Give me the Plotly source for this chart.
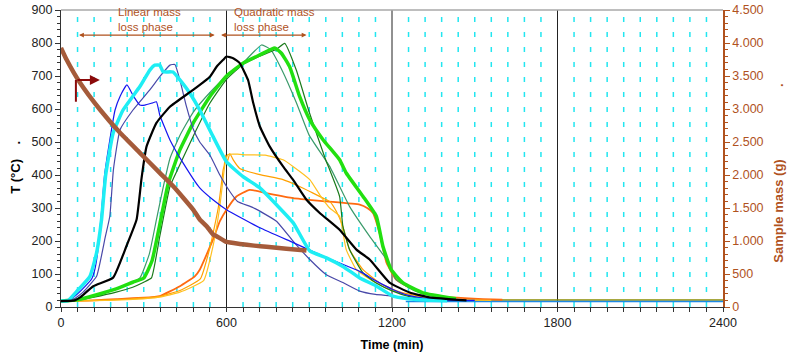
import plotly.graph_objects as go

# ---------------- data ----------------
blue_t = [0, 30, 60, 90, 111, 123, 135, 147, 158, 177, 196, 214, 239, 262, 286, 304, 330, 346, 358, 395, 443, 503, 551, 600, 721, 842, 962, 1083, 1140, 1203, 1260, 1320, 1400, 1500]
blue_T = [18, 20, 40, 65, 85, 115, 180, 290, 400, 506, 597, 638, 673, 640, 612, 612, 618, 622, 582, 506, 436, 361, 325, 295, 240, 195, 150, 108, 80, 53, 35, 26, 21, 20]

cyan_t = [0, 25, 60, 105, 129, 147, 162, 189, 225, 286, 322, 340, 358, 370, 406, 431, 467, 503, 551, 600, 660, 721, 781, 842, 902, 962, 1022, 1083, 1140, 1203, 1260, 1320, 1400]
cyan_T = [18, 19, 50, 93, 164, 265, 400, 527, 597, 668, 718, 733, 733, 713, 712, 688, 648, 597, 517, 440, 395, 361, 310, 255, 170, 149, 123, 88, 65, 33, 25, 21, 19]

slate_t = [0, 40, 80, 129, 160, 177, 190, 214, 261, 322, 358, 395, 413, 431, 455, 479, 503, 540, 576, 612, 640, 697, 781, 842, 902, 962, 1022, 1083, 1140, 1203, 1260, 1320]
slate_T = [18, 20, 45, 93, 210, 275, 416, 537, 597, 658, 698, 733, 735, 688, 607, 540, 500, 460, 400, 350, 320, 301, 260, 199, 144, 98, 74, 48, 38, 33, 25, 21]

black_t = [0, 50, 69, 117, 189, 237, 274, 292, 310, 346, 395, 479, 540, 564, 588, 600, 624, 648, 678, 697, 721, 757, 805, 841, 890, 938, 1010, 1071, 1119, 1191, 1264, 1336, 1470]
black_T = [18, 20, 29, 63, 89, 184, 265, 390, 486, 558, 607, 658, 698, 728, 749, 759, 754, 739, 688, 618, 547, 486, 426, 386, 325, 285, 234, 174, 144, 74, 44, 29, 20]

lime_t = [0, 60, 120, 200, 260, 300, 330, 358, 389, 431, 479, 540, 600, 660, 721, 775, 799, 829, 865, 902, 950, 1010, 1034, 1095, 1143, 1167, 1197, 1240, 1312, 1432]
lime_T = [18, 22, 35, 55, 75, 88, 140, 250, 375, 476, 557, 638, 700, 739, 764, 785, 769, 728, 638, 567, 507, 446, 406, 335, 275, 184, 113, 73, 43, 25]

seagreen_t = [0, 60, 120, 200, 250, 286, 320, 346, 371, 395, 431, 479, 540, 600, 660, 727, 760, 800, 853, 900, 974, 1046, 1119, 1180, 1215, 1285, 1400]
seagreen_T = [18, 22, 35, 55, 72, 88, 160, 265, 365, 450, 520, 590, 650, 700, 740, 794, 780, 720, 620, 520, 426, 305, 214, 144, 83, 48, 22]

dkgreen_t = [0, 60, 120, 200, 260, 300, 328, 358, 395, 419, 479, 540, 600, 660, 720, 780, 811, 853, 900, 962, 974, 1010, 1022, 1046, 1095, 1143, 1203, 1260, 1330, 1450]
dkgreen_T = [18, 21, 30, 45, 60, 75, 88, 214, 365, 410, 517, 618, 690, 735, 760, 780, 799, 718, 590, 440, 416, 335, 244, 174, 103, 73, 48, 32, 24, 20]

redorange_t = [0, 120, 200, 300, 358, 431, 485, 503, 551, 576, 600, 636, 684, 745, 841, 962, 1083, 1110, 1131, 1155, 1180, 1215, 1276, 1360, 1530, 1600]
redorange_T = [18, 20, 24, 28, 33, 63, 93, 113, 204, 260, 295, 335, 355, 345, 330, 320, 310, 300, 285, 224, 134, 83, 53, 33, 24, 22]

orange_t = [0, 120, 240, 358, 431, 505, 540, 570, 588, 592, 597, 603, 612, 625, 648, 721, 805, 865, 914, 950, 974, 998, 1022, 1046, 1095, 1155, 1230, 1320, 1450]
orange_T = [18, 20, 24, 32, 50, 85, 180, 300, 416, 430, 460, 440, 465, 445, 420, 401, 386, 365, 345, 330, 320, 290, 244, 174, 113, 73, 45, 30, 22]

gold_t = [0, 120, 240, 358, 431, 517, 550, 575, 594, 605, 640, 672, 740, 805, 841, 902, 938, 974, 1010, 1034, 1071, 1131, 1191, 1260, 1350, 1500, 1560]
gold_T = [18, 19, 22, 30, 45, 80, 180, 300, 430, 462, 463, 461, 460, 446, 426, 386, 340, 300, 275, 174, 113, 78, 53, 35, 26, 21, 20]

olive_t = [1300, 2400]
olive_T = [21, 21]
tailblue_t = [1250, 2400]
tailblue_T = [17, 17]

mass_t = [0, 20, 69, 141, 214, 286, 358, 407, 479, 503, 528, 551, 564, 600, 648, 700, 745, 817, 890]
mass_g = [3927, 3750, 3397, 2992, 2639, 2336, 2033, 1830, 1477, 1326, 1224, 1100, 1073, 985, 955, 930, 912, 882, 855]

x_ticks = [0, 600, 1200, 1800, 2400]
yT_ticks = [0, 100, 200, 300, 400, 500, 600, 700, 800, 900]
ym_ticks = [0, 500, 1000, 1500, 2000, 2500, 3000, 3500, 4000, 4500]
ym_labels = [f"{v:,}".replace(",", ".") for v in ym_ticks]

phase_labels = ["Linear mass<br>loss phase", "Quadratic mass<br>loss phase"]
phase_spans = [(60, 557), (575, 890)]
phase_text_x = [200, 620]
phase_y = 824

BROWN = "#B0521E"
FONT = "Liberation Sans, Arial, sans-serif"

fig = go.Figure()

# vertical reference lines
for m in range(60, 2400, 60):
    if m % 600 == 0:
        fig.add_shape(type="line", x0=m, x1=m, y0=0, y1=1, xref="x", yref="paper",
                      line=dict(color="#222222", width=1), layer="below")
    else:
        fig.add_shape(type="line", x0=m, x1=m, y0=0, y1=1, xref="x", yref="paper",
                      line=dict(color="#22E6F0", width=1.5, dash="5px,10px"), layer="below")
# top border
fig.add_shape(type="line", x0=0, x1=1, y0=1, y1=1, xref="paper", yref="paper",
              line=dict(color="#A8A8A8", width=1.5))

def add(t, T, color, width, yaxis="y"):
    fig.add_trace(go.Scatter(x=t, y=T, mode="lines", yaxis=yaxis, showlegend=False,
                             line=dict(color=color, width=width, shape="spline", smoothing=0.4),
                             hoverinfo="skip"))

add(olive_t, olive_T, "#8B8B00", 1.5)
add(tailblue_t, tailblue_T, "#1E88E5", 1.5)
add(redorange_t, redorange_T, "#FF6A10", 1.8)
add(orange_t, orange_T, "#FFA000", 1.2)
add(gold_t, gold_T, "#FFC020", 1.2)
add(seagreen_t, seagreen_T, "#3A9A6A", 1.2)
add(dkgreen_t, dkgreen_T, "#1A7A1A", 1.2)
add(lime_t, lime_T, "#22E010", 3.5)
add(slate_t, slate_T, "#4848A8", 1.2)
add(blue_t, blue_T, "#1515F0", 1.2)
add(cyan_t, cyan_T, "#1EEEF4", 3.5)
add(black_t, black_T, "#000000", 2.2)
add(mass_t, mass_g, "#A55B3A", 4.5, yaxis="y2")

# phase annotations
for lab, (a, b), tx in zip(phase_labels, phase_spans, phase_text_x):
    fig.add_annotation(x=tx, y=phase_y, xref="x", yref="y", text=lab, showarrow=False,
                       xanchor="left", yanchor="bottom", align="left",
                       font=dict(family=FONT, size=11.5, color=BROWN), yshift=0)
    fig.add_annotation(x=b, y=phase_y, ax=a, ay=phase_y, xref="x", yref="y",
                       axref="x", ayref="y", text="", showarrow=True,
                       arrowhead=2, arrowside="end+start", arrowsize=0.8,
                       arrowwidth=1.2, arrowcolor=BROWN)

# dark red corner arrow
fig.add_shape(type="line", x0=54, x1=54, y0=622, y1=688, xref="x", yref="y",
              line=dict(color="#8B0A0A", width=2))
fig.add_annotation(x=141, y=688, ax=54, ay=688, xref="x", yref="y", axref="x", ayref="y",
                   text="", showarrow=True, arrowhead=2, arrowsize=1, arrowwidth=2,
                   arrowcolor="#8B0A0A")

# axis titles
fig.add_annotation(x=-0.068, y=0.472, xref="paper", yref="paper", text="<b>T (°C)    .</b>",
                   xanchor="center", yanchor="middle",
                   textangle=-90, showarrow=False, font=dict(family=FONT, size=13, color="#000"))
fig.add_annotation(x=1.0846, y=0.449, xref="paper", yref="paper",
                   text="<b>Sample mass (g)                    .</b>",
                   xanchor="center", yanchor="middle",
                   textangle=-90, showarrow=False, font=dict(family=FONT, size=13, color=BROWN))

fig.update_layout(
    width=788, height=357,
    margin=dict(l=61, r=65, t=10, b=50, autoexpand=False),
    paper_bgcolor="white", plot_bgcolor="white",
    font=dict(family=FONT, size=12.5, color="#222"),
    xaxis=dict(range=[0, 2400], tickvals=x_ticks, showgrid=False, zeroline=False, automargin=False,
               showline=True, linecolor="#333", linewidth=1.2, ticks="outside", ticklen=4,
               tickcolor="#333", minor=dict(dtick=60, ticks="outside", ticklen=4, tickcolor="#333"),
               title=dict(text="<b>Time (min)</b>", font=dict(size=12.5, color="#000"), standoff=11)),
    yaxis=dict(range=[0, 900], tickvals=yT_ticks, showgrid=False, zeroline=False, automargin=False,
               showline=True, linecolor="#333", linewidth=1.2, ticks="outside", ticklen=5,
               tickcolor="#333", minor=dict(dtick=20, ticks="outside", ticklen=3, tickcolor="#333")),
    yaxis2=dict(range=[0, 4500], tickvals=ym_ticks, ticktext=ym_labels, overlaying="y", side="right",
                showgrid=False, zeroline=False, showline=True, linecolor=BROWN, linewidth=1.5,
                automargin=False,
                ticks="outside", ticklen=5, tickcolor=BROWN, tickfont=dict(color=BROWN),
                minor=dict(dtick=100, ticks="outside", ticklen=3, tickcolor=BROWN)),
)

fig.write_html("out.html", config={"displayModeBar": False},
               post_script="document.body.style.margin='0';document.body.style.overflow='hidden';")
